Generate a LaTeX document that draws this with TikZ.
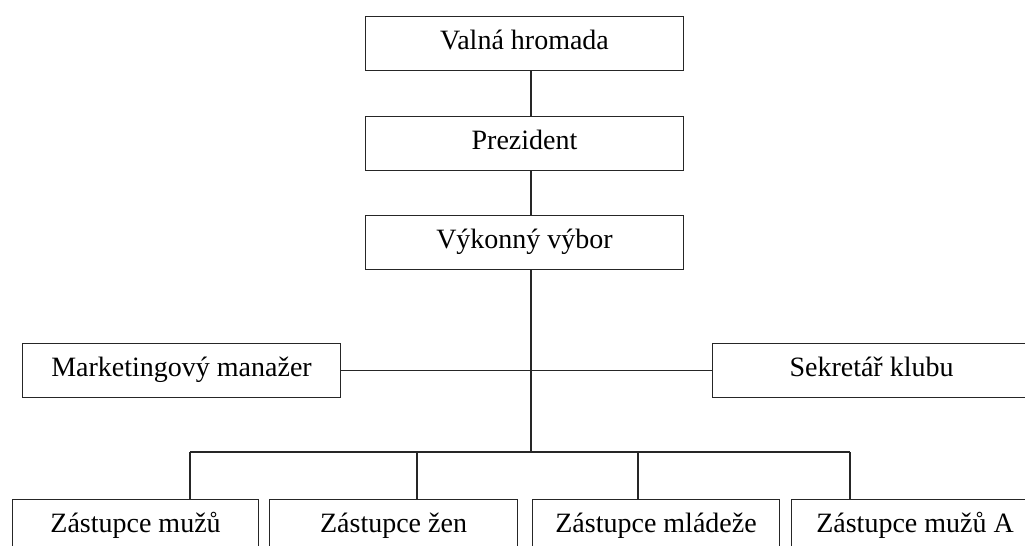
\documentclass[tikz,border=0pt]{standalone}
\usepackage{fontspec}
\setmainfont{Liberation Serif}
\begin{document}
\begin{tikzpicture}[x=0.75pt,y=-0.75pt,
  box/.style={draw=black!85, line width=0.8pt, anchor=north west, inner sep=0pt,
    minimum height=40.5pt, text height=14pt, text depth=5pt,
    font=\fontsize{21}{25}\selectfont, text=black},
  topbox/.style={box, minimum width=238.5pt},
  bigbox/.style={box, minimum width=238.5pt},
  botbox/.style={box, minimum width=185.25pt},
  conn/.style={draw=black!85, line width=0.8pt}]
\useasboundingbox (0,0) rectangle (1025,546);
\clip (0,0) rectangle (1025,546);
\fill[white] (0,0) rectangle (1025,546);
\coordinate (spine) at (531,0);
\coordinate (bus) at (0,452);
\node[topbox] (vh) at (365,16) {Valná hromada};
\node[topbox] (pr) at (365,116) {Prezident};
\node[topbox] (vv) at (365,215) {Výkonný výbor};
\node[bigbox] (mm) at (22,343) {Marketingový manažer};
\node[bigbox] (sk) at (712,343) {Sekretář klubu};
\node[botbox, minimum width=184.5pt] (z1) at (12,499) {Zástupce mužů};
\node[botbox, minimum width=186pt] (z2) at (269,499) {Zástupce žen};
\node[botbox] (z3) at (532,499) {Zástupce mládeže};
\node[botbox] (z4) at (791,499) {Zástupce mužů A};
\coordinate (b1) at (190,452);
\coordinate (b2) at (417,452);
\coordinate (b3) at (638,452);
\coordinate (b4) at (850,452);
\draw[conn] (vh.south -| spine) -- (pr.north -| spine);
\draw[conn] (pr.south -| spine) -- (vv.north -| spine);
\draw[conn] (vv.south -| spine) -- (bus -| spine);
\draw[conn] (mm.east) -- (sk.west);
\draw[conn] (b1) -- (b4);
\draw[conn] (b1) -- (z1.north -| b1);
\draw[conn] (b2) -- (z2.north -| b2);
\draw[conn] (b3) -- (z3.north -| b3);
\draw[conn] (b4) -- (z4.north -| b4);
\end{tikzpicture}
\end{document}
